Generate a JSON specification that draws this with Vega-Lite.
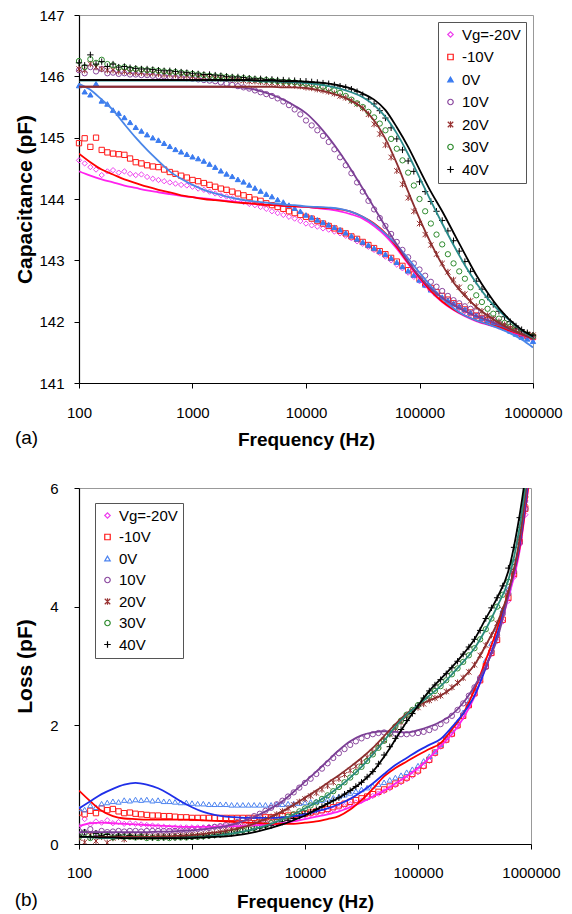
{
"$schema":"https://vega.github.io/schema/vega-lite/v6.json",
"background":"white",
"padding":{"left":14,"top":7,"right":5,"bottom":2},
"spacing":30,
"config":{"font":"Liberation Sans","view":{"stroke":"#999999","strokeWidth":1},
"axis":{"grid":false,"domainColor":"#000","domainWidth":1.2,"tickColor":"#000","tickSize":5,"labelColor":"#000","titleColor":"#000","labelFont":"Liberation Sans","titleFont":"Liberation Sans","labelFontSize":15,"titleFontSize":19,"titleFontWeight":"bold"}},
"datasets":{
"capPts":[
{"f":100,"Vg=-20V":144.63,"-10V":144.91,"0V":145.85,"10V":146.1,"20V":146.12,"30V":146.25,"40V":146.22},
{"f":112.2,"Vg=-20V":144.58,"-10V":144.99,"0V":145.75,"10V":146.05,"20V":146.1,"30V":146.15,"40V":146.18},
{"f":125.9,"Vg=-20V":144.52,"-10V":144.85,"0V":145.7,"10V":146.15,"20V":146.2,"30V":146.28,"40V":146.35},
{"f":141.3,"Vg=-20V":144.48,"-10V":145.0,"0V":145.88,"10V":146.08,"20V":146.15,"30V":146.22,"40V":146.2},
{"f":158.5,"Vg=-20V":144.39,"-10V":144.8,"0V":145.6,"10V":146.12,"20V":146.12,"30V":146.27,"40V":146.24},
{"f":177.8,"Vg=-20V":144.45,"-10V":144.76,"0V":145.55,"10V":146.05,"20V":146.1,"30V":146.2,"40V":146.16},
{"f":199.5,"Vg=-20V":144.47,"-10V":144.74,"0V":145.45,"10V":146.06,"20V":146.1,"30V":146.18,"40V":146.2},
{"f":223.9,"Vg=-20V":144.43,"-10V":144.73,"0V":145.4,"10V":146.04,"20V":146.08,"30V":146.14,"40V":146.15},
{"f":251.2,"Vg=-20V":144.45,"-10V":144.72,"0V":145.33,"10V":146.05,"20V":146.08,"30V":146.15,"40V":146.16},
{"f":281.8,"Vg=-20V":144.41,"-10V":144.66,"0V":145.25,"10V":146.03,"20V":146.07,"30V":146.12,"40V":146.14},
{"f":316.2,"Vg=-20V":144.39,"-10V":144.6,"0V":145.17,"10V":146.03,"20V":146.06,"30V":146.12,"40V":146.13},
{"f":354.8,"Vg=-20V":144.4,"-10V":144.58,"0V":145.11,"10V":146.02,"20V":146.06,"30V":146.11,"40V":146.12},
{"f":398.1,"Vg=-20V":144.36,"-10V":144.55,"0V":145.05,"10V":146.02,"20V":146.05,"30V":146.1,"40V":146.12},
{"f":446.7,"Vg=-20V":144.33,"-10V":144.53,"0V":145.0,"10V":146.01,"20V":146.05,"30V":146.1,"40V":146.11},
{"f":501.2,"Vg=-20V":144.31,"-10V":144.52,"0V":144.96,"10V":146.0,"20V":146.04,"30V":146.09,"40V":146.1},
{"f":562.3,"Vg=-20V":144.29,"-10V":144.48,"0V":144.91,"10V":146.0,"20V":146.03,"30V":146.08,"40V":146.09},
{"f":631,"Vg=-20V":144.27,"-10V":144.44,"0V":144.86,"10V":145.99,"20V":146.03,"30V":146.07,"40V":146.09},
{"f":707.9,"Vg=-20V":144.25,"-10V":144.41,"0V":144.81,"10V":145.98,"20V":146.02,"30V":146.07,"40V":146.08},
{"f":794.3,"Vg=-20V":144.23,"-10V":144.38,"0V":144.77,"10V":145.98,"20V":146.01,"30V":146.06,"40V":146.07},
{"f":891.3,"Vg=-20V":144.22,"-10V":144.35,"0V":144.73,"10V":145.97,"20V":146.01,"30V":146.05,"40V":146.06},
{"f":1000,"Vg=-20V":144.2,"-10V":144.31,"0V":144.69,"10V":145.96,"20V":146.0,"30V":146.04,"40V":146.05},
{"f":1122,"Vg=-20V":144.17,"-10V":144.29,"0V":144.66,"10V":145.95,"20V":145.99,"30V":146.03,"40V":146.04},
{"f":1259,"Vg=-20V":144.15,"-10V":144.26,"0V":144.62,"10V":145.94,"20V":145.99,"30V":146.02,"40V":146.03},
{"f":1413,"Vg=-20V":144.12,"-10V":144.23,"0V":144.57,"10V":145.93,"20V":145.98,"30V":146.01,"40V":146.03},
{"f":1585,"Vg=-20V":144.09,"-10V":144.2,"0V":144.52,"10V":145.92,"20V":145.97,"30V":146.0,"40V":146.02},
{"f":1778,"Vg=-20V":144.06,"-10V":144.17,"0V":144.46,"10V":145.9,"20V":145.96,"30V":146.0,"40V":146.01},
{"f":1995,"Vg=-20V":144.04,"-10V":144.15,"0V":144.41,"10V":145.88,"20V":145.96,"30V":145.99,"40V":146.0},
{"f":2239,"Vg=-20V":144.01,"-10V":144.12,"0V":144.37,"10V":145.86,"20V":145.95,"30V":145.98,"40V":145.99},
{"f":2512,"Vg=-20V":143.98,"-10V":144.09,"0V":144.32,"10V":145.84,"20V":145.94,"30V":145.97,"40V":145.99},
{"f":2818,"Vg=-20V":143.95,"-10V":144.06,"0V":144.28,"10V":145.82,"20V":145.93,"30V":145.97,"40V":145.98},
{"f":3162,"Vg=-20V":143.92,"-10V":144.03,"0V":144.23,"10V":145.8,"20V":145.92,"30V":145.96,"40V":145.97},
{"f":3548,"Vg=-20V":143.9,"-10V":143.99,"0V":144.18,"10V":145.77,"20V":145.92,"30V":145.95,"40V":145.96},
{"f":3981,"Vg=-20V":143.87,"-10V":143.97,"0V":144.13,"10V":145.74,"20V":145.91,"30V":145.94,"40V":145.96},
{"f":4467,"Vg=-20V":143.84,"-10V":143.93,"0V":144.08,"10V":145.71,"20V":145.9,"30V":145.94,"40V":145.95},
{"f":5012,"Vg=-20V":143.8,"-10V":143.9,"0V":144.04,"10V":145.68,"20V":145.89,"30V":145.93,"40V":145.95},
{"f":5623,"Vg=-20V":143.77,"-10V":143.87,"0V":143.99,"10V":145.64,"20V":145.88,"30V":145.92,"40V":145.94},
{"f":6310,"Vg=-20V":143.74,"-10V":143.84,"0V":143.95,"10V":145.59,"20V":145.87,"30V":145.91,"40V":145.94},
{"f":7079,"Vg=-20V":143.71,"-10V":143.8,"0V":143.9,"10V":145.53,"20V":145.86,"30V":145.91,"40V":145.93},
{"f":7943,"Vg=-20V":143.68,"-10V":143.77,"0V":143.85,"10V":145.46,"20V":145.85,"30V":145.9,"40V":145.93},
{"f":8913,"Vg=-20V":143.64,"-10V":143.74,"0V":143.8,"10V":145.38,"20V":145.84,"30V":145.89,"40V":145.92},
{"f":10000,"Vg=-20V":143.6,"-10V":143.71,"0V":143.74,"10V":145.28,"20V":145.82,"30V":145.88,"40V":145.92},
{"f":11220,"Vg=-20V":143.57,"-10V":143.68,"0V":143.7,"10V":145.2,"20V":145.81,"30V":145.87,"40V":145.91},
{"f":12589,"Vg=-20V":143.55,"-10V":143.64,"0V":143.66,"10V":145.12,"20V":145.79,"30V":145.85,"40V":145.9},
{"f":14125,"Vg=-20V":143.52,"-10V":143.6,"0V":143.62,"10V":145.03,"20V":145.77,"30V":145.83,"40V":145.89},
{"f":15849,"Vg=-20V":143.5,"-10V":143.56,"0V":143.58,"10V":144.93,"20V":145.75,"30V":145.8,"40V":145.88},
{"f":17783,"Vg=-20V":143.47,"-10V":143.52,"0V":143.54,"10V":144.81,"20V":145.72,"30V":145.77,"40V":145.86},
{"f":19953,"Vg=-20V":143.44,"-10V":143.48,"0V":143.5,"10V":144.68,"20V":145.68,"30V":145.73,"40V":145.84},
{"f":22387,"Vg=-20V":143.4,"-10V":143.44,"0V":143.45,"10V":144.55,"20V":145.65,"30V":145.68,"40V":145.82},
{"f":25119,"Vg=-20V":143.36,"-10V":143.39,"0V":143.4,"10V":144.42,"20V":145.6,"30V":145.62,"40V":145.79},
{"f":28184,"Vg=-20V":143.31,"-10V":143.35,"0V":143.35,"10V":144.27,"20V":145.55,"30V":145.56,"40V":145.75},
{"f":31623,"Vg=-20V":143.27,"-10V":143.3,"0V":143.3,"10V":144.12,"20V":145.48,"30V":145.5,"40V":145.7},
{"f":35481,"Vg=-20V":143.22,"-10V":143.25,"0V":143.25,"10V":143.97,"20V":145.38,"30V":145.42,"40V":145.63},
{"f":39811,"Vg=-20V":143.17,"-10V":143.2,"0V":143.2,"10V":143.83,"20V":145.22,"30V":145.33,"40V":145.55},
{"f":44668,"Vg=-20V":143.12,"-10V":143.15,"0V":143.15,"10V":143.69,"20V":145.06,"30V":145.23,"40V":145.44},
{"f":50119,"Vg=-20V":143.06,"-10V":143.1,"0V":143.1,"10V":143.56,"20V":144.88,"30V":145.12,"40V":145.32},
{"f":56234,"Vg=-20V":143.0,"-10V":143.04,"0V":143.04,"10V":143.43,"20V":144.68,"30V":144.98,"40V":145.16},
{"f":63096,"Vg=-20V":142.93,"-10V":142.98,"0V":142.97,"10V":143.3,"20V":144.46,"30V":144.82,"40V":144.98},
{"f":70795,"Vg=-20V":142.87,"-10V":142.91,"0V":142.9,"10V":143.17,"20V":144.24,"30V":144.63,"40V":144.8},
{"f":79433,"Vg=-20V":142.8,"-10V":142.84,"0V":142.83,"10V":143.05,"20V":144.02,"30V":144.43,"40V":144.62},
{"f":89125,"Vg=-20V":142.73,"-10V":142.77,"0V":142.76,"10V":142.95,"20V":143.8,"30V":144.22,"40V":144.45},
{"f":100000,"Vg=-20V":142.66,"-10V":142.7,"0V":142.68,"10V":142.85,"20V":143.6,"30V":144.0,"40V":144.28},
{"f":112202,"Vg=-20V":142.59,"-10V":142.62,"0V":142.6,"10V":142.75,"20V":143.42,"30V":143.8,"40V":144.12},
{"f":125893,"Vg=-20V":142.52,"-10V":142.55,"0V":142.52,"10V":142.65,"20V":143.25,"30V":143.6,"40V":143.96},
{"f":141254,"Vg=-20V":142.45,"-10V":142.48,"0V":142.46,"10V":142.57,"20V":143.1,"30V":143.42,"40V":143.8},
{"f":158489,"Vg=-20V":142.38,"-10V":142.42,"0V":142.4,"10V":142.5,"20V":142.95,"30V":143.26,"40V":143.65},
{"f":177828,"Vg=-20V":142.32,"-10V":142.36,"0V":142.35,"10V":142.42,"20V":142.81,"30V":143.1,"40V":143.48},
{"f":199526,"Vg=-20V":142.27,"-10V":142.3,"0V":142.3,"10V":142.35,"20V":142.68,"30V":142.95,"40V":143.32},
{"f":223872,"Vg=-20V":142.22,"-10V":142.25,"0V":142.25,"10V":142.3,"20V":142.56,"30V":142.82,"40V":143.15},
{"f":251189,"Vg=-20V":142.17,"-10V":142.2,"0V":142.2,"10V":142.25,"20V":142.45,"30V":142.7,"40V":142.98},
{"f":281838,"Vg=-20V":142.12,"-10V":142.15,"0V":142.15,"10V":142.21,"20V":142.34,"30V":142.56,"40V":142.82},
{"f":316228,"Vg=-20V":142.08,"-10V":142.1,"0V":142.1,"10V":142.17,"20V":142.25,"30V":142.43,"40V":142.66},
{"f":354813,"Vg=-20V":142.04,"-10V":142.06,"0V":142.06,"10V":142.12,"20V":142.17,"30V":142.32,"40V":142.53},
{"f":398107,"Vg=-20V":142.0,"-10V":142.02,"0V":142.02,"10V":142.08,"20V":142.1,"30V":142.21,"40V":142.4},
{"f":446684,"Vg=-20V":141.96,"-10V":141.98,"0V":141.98,"10V":142.03,"20V":142.05,"30V":142.13,"40V":142.28},
{"f":501187,"Vg=-20V":141.92,"-10V":141.95,"0V":141.95,"10V":141.98,"20V":142.0,"30V":142.05,"40V":142.17},
{"f":562341,"Vg=-20V":141.89,"-10V":141.91,"0V":141.9,"10V":141.93,"20V":141.95,"30V":141.98,"40V":142.08},
{"f":630957,"Vg=-20V":141.85,"-10V":141.87,"0V":141.85,"10V":141.88,"20V":141.9,"30V":141.92,"40V":142.0},
{"f":707946,"Vg=-20V":141.81,"-10V":141.84,"0V":141.8,"10V":141.84,"20V":141.86,"30V":141.87,"40V":141.93},
{"f":794328,"Vg=-20V":141.78,"-10V":141.8,"0V":141.75,"10V":141.8,"20V":141.82,"30V":141.82,"40V":141.87},
{"f":891251,"Vg=-20V":141.75,"-10V":141.77,"0V":141.72,"10V":141.78,"20V":141.8,"30V":141.79,"40V":141.82},
{"f":1000000,"Vg=-20V":141.72,"-10V":141.75,"0V":141.68,"10V":141.75,"20V":141.78,"30V":141.76,"40V":141.78}
],
"capFit":[
{"f":100,"Vg=-20V":144.45,"-10V":144.74,"0V":145.88,"10V":145.83,"20V":145.83,"30V":145.93,"40V":145.94},
{"f":125.9,"Vg=-20V":144.38,"-10V":144.6,"0V":145.78,"10V":145.83,"20V":145.83,"30V":145.93,"40V":145.94},
{"f":158.5,"Vg=-20V":144.32,"-10V":144.48,"0V":145.62,"10V":145.83,"20V":145.83,"30V":145.93,"40V":145.94},
{"f":199.5,"Vg=-20V":144.27,"-10V":144.4,"0V":145.45,"10V":145.83,"20V":145.83,"30V":145.93,"40V":145.94},
{"f":251.2,"Vg=-20V":144.22,"-10V":144.32,"0V":145.22,"10V":145.83,"20V":145.83,"30V":145.93,"40V":145.94},
{"f":316.2,"Vg=-20V":144.18,"-10V":144.26,"0V":145.0,"10V":145.83,"20V":145.83,"30V":145.93,"40V":145.94},
{"f":398.1,"Vg=-20V":144.14,"-10V":144.2,"0V":144.8,"10V":145.83,"20V":145.83,"30V":145.93,"40V":145.94},
{"f":501.2,"Vg=-20V":144.11,"-10V":144.15,"0V":144.62,"10V":145.83,"20V":145.83,"30V":145.93,"40V":145.94},
{"f":631,"Vg=-20V":144.08,"-10V":144.11,"0V":144.45,"10V":145.83,"20V":145.83,"30V":145.93,"40V":145.94},
{"f":794.3,"Vg=-20V":144.05,"-10V":144.06,"0V":144.33,"10V":145.83,"20V":145.83,"30V":145.93,"40V":145.94},
{"f":1000,"Vg=-20V":144.03,"-10V":144.03,"0V":144.23,"10V":145.83,"20V":145.83,"30V":145.93,"40V":145.94},
{"f":1259,"Vg=-20V":144.01,"-10V":144.0,"0V":144.15,"10V":145.83,"20V":145.83,"30V":145.93,"40V":145.94},
{"f":1585,"Vg=-20V":143.99,"-10V":143.98,"0V":144.09,"10V":145.83,"20V":145.83,"30V":145.93,"40V":145.94},
{"f":1995,"Vg=-20V":143.97,"-10V":143.96,"0V":144.04,"10V":145.83,"20V":145.83,"30V":145.93,"40V":145.94},
{"f":2512,"Vg=-20V":143.95,"-10V":143.94,"0V":144.0,"10V":145.82,"20V":145.83,"30V":145.93,"40V":145.94},
{"f":3162,"Vg=-20V":143.93,"-10V":143.93,"0V":143.97,"10V":145.8,"20V":145.83,"30V":145.93,"40V":145.94},
{"f":3981,"Vg=-20V":143.91,"-10V":143.91,"0V":143.95,"10V":145.76,"20V":145.83,"30V":145.92,"40V":145.93},
{"f":5012,"Vg=-20V":143.9,"-10V":143.9,"0V":143.93,"10V":145.7,"20V":145.83,"30V":145.92,"40V":145.93},
{"f":6310,"Vg=-20V":143.89,"-10V":143.89,"0V":143.91,"10V":145.62,"20V":145.82,"30V":145.91,"40V":145.92},
{"f":7943,"Vg=-20V":143.88,"-10V":143.88,"0V":143.9,"10V":145.52,"20V":145.82,"30V":145.9,"40V":145.92},
{"f":10000,"Vg=-20V":143.87,"-10V":143.87,"0V":143.88,"10V":145.4,"20V":145.81,"30V":145.89,"40V":145.91},
{"f":12589,"Vg=-20V":143.85,"-10V":143.86,"0V":143.87,"10V":145.22,"20V":145.78,"30V":145.87,"40V":145.9},
{"f":15849,"Vg=-20V":143.83,"-10V":143.85,"0V":143.86,"10V":145.0,"20V":145.74,"30V":145.84,"40V":145.88},
{"f":19953,"Vg=-20V":143.8,"-10V":143.83,"0V":143.84,"10V":144.75,"20V":145.68,"30V":145.8,"40V":145.85},
{"f":25119,"Vg=-20V":143.75,"-10V":143.79,"0V":143.79,"10V":144.47,"20V":145.6,"30V":145.74,"40V":145.8},
{"f":31623,"Vg=-20V":143.68,"-10V":143.71,"0V":143.71,"10V":144.17,"20V":145.48,"30V":145.66,"40V":145.72},
{"f":39811,"Vg=-20V":143.56,"-10V":143.6,"0V":143.59,"10V":143.86,"20V":145.28,"30V":145.53,"40V":145.62},
{"f":50119,"Vg=-20V":143.4,"-10V":143.44,"0V":143.43,"10V":143.55,"20V":144.98,"30V":145.34,"40V":145.45},
{"f":63096,"Vg=-20V":143.19,"-10V":143.22,"0V":143.25,"10V":143.26,"20V":144.58,"30V":145.07,"40V":145.17},
{"f":79433,"Vg=-20V":142.94,"-10V":142.96,"0V":143.03,"10V":142.98,"20V":144.12,"30V":144.73,"40V":144.85},
{"f":100000,"Vg=-20V":142.7,"-10V":142.72,"0V":142.8,"10V":142.74,"20V":143.68,"30V":144.35,"40V":144.48},
{"f":125893,"Vg=-20V":142.49,"-10V":142.5,"0V":142.58,"10V":142.54,"20V":143.28,"30V":143.97,"40V":144.12},
{"f":158489,"Vg=-20V":142.32,"-10V":142.33,"0V":142.38,"10V":142.39,"20V":142.93,"30V":143.6,"40V":143.8},
{"f":199526,"Vg=-20V":142.19,"-10V":142.2,"0V":142.22,"10V":142.27,"20V":142.64,"30V":143.25,"40V":143.45},
{"f":251189,"Vg=-20V":142.09,"-10V":142.1,"0V":142.1,"10V":142.17,"20V":142.42,"30V":142.92,"40V":143.1},
{"f":316228,"Vg=-20V":142.01,"-10V":142.02,"0V":142.02,"10V":142.09,"20V":142.24,"30V":142.63,"40V":142.76},
{"f":398107,"Vg=-20V":141.95,"-10V":141.96,"0V":141.96,"10V":142.02,"20V":142.1,"30V":142.38,"40V":142.47},
{"f":501187,"Vg=-20V":141.9,"-10V":141.91,"0V":141.89,"10V":141.95,"20V":141.98,"30V":142.18,"40V":142.22},
{"f":630957,"Vg=-20V":141.84,"-10V":141.85,"0V":141.81,"10V":141.87,"20V":141.88,"30V":142.01,"40V":142.02},
{"f":794328,"Vg=-20V":141.78,"-10V":141.79,"0V":141.71,"10V":141.8,"20V":141.8,"30V":141.86,"40V":141.87},
{"f":1000000,"Vg=-20V":141.72,"-10V":141.73,"0V":141.58,"10V":141.72,"20V":141.72,"30V":141.74,"40V":141.76}
],
"lossPts":[
{"f":100,"Vg=-20V":0.3,"-10V":0.53,"0V":0.6,"10V":0.22,"20V":0.1,"30V":0.12,"40V":0.15},
{"f":112.2,"Vg=-20V":0.42,"-10V":0.5,"0V":0.58,"10V":0.2,"20V":0.03,"30V":0.18,"40V":0.2},
{"f":125.9,"Vg=-20V":0.33,"-10V":0.56,"0V":0.65,"10V":0.25,"20V":0.15,"30V":0.1,"40V":0.12},
{"f":141.3,"Vg=-20V":0.38,"-10V":0.52,"0V":0.62,"10V":0.18,"20V":0.05,"30V":0.15,"40V":0.18},
{"f":158.5,"Vg=-20V":0.36,"-10V":0.6,"0V":0.68,"10V":0.22,"20V":0.12,"30V":0.13,"40V":0.14},
{"f":177.8,"Vg=-20V":0.4,"-10V":0.57,"0V":0.7,"10V":0.2,"20V":0.02,"30V":0.14,"40V":0.16},
{"f":199.5,"Vg=-20V":0.35,"-10V":0.59,"0V":0.72,"10V":0.21,"20V":0.1,"30V":0.11,"40V":0.12},
{"f":223.9,"Vg=-20V":0.37,"-10V":0.55,"0V":0.71,"10V":0.22,"20V":0.12,"30V":0.13,"40V":0.15},
{"f":251.2,"Vg=-20V":0.34,"-10V":0.52,"0V":0.74,"10V":0.21,"20V":0.08,"30V":0.12,"40V":0.13},
{"f":281.8,"Vg=-20V":0.35,"-10V":0.53,"0V":0.73,"10V":0.22,"20V":0.13,"30V":0.12,"40V":0.14},
{"f":316.2,"Vg=-20V":0.34,"-10V":0.51,"0V":0.75,"10V":0.22,"20V":0.12,"30V":0.11,"40V":0.12},
{"f":354.8,"Vg=-20V":0.33,"-10V":0.5,"0V":0.74,"10V":0.21,"20V":0.12,"30V":0.12,"40V":0.13},
{"f":398.1,"Vg=-20V":0.32,"-10V":0.49,"0V":0.75,"10V":0.22,"20V":0.13,"30V":0.1,"40V":0.12},
{"f":446.7,"Vg=-20V":0.31,"-10V":0.48,"0V":0.73,"10V":0.22,"20V":0.12,"30V":0.11,"40V":0.11},
{"f":501.2,"Vg=-20V":0.3,"-10V":0.48,"0V":0.74,"10V":0.22,"20V":0.13,"30V":0.1,"40V":0.12},
{"f":562.3,"Vg=-20V":0.29,"-10V":0.47,"0V":0.72,"10V":0.22,"20V":0.13,"30V":0.11,"40V":0.11},
{"f":631,"Vg=-20V":0.28,"-10V":0.47,"0V":0.72,"10V":0.22,"20V":0.13,"30V":0.1,"40V":0.12},
{"f":707.9,"Vg=-20V":0.28,"-10V":0.46,"0V":0.71,"10V":0.22,"20V":0.14,"30V":0.11,"40V":0.11},
{"f":794.3,"Vg=-20V":0.28,"-10V":0.45,"0V":0.7,"10V":0.23,"20V":0.14,"30V":0.11,"40V":0.12},
{"f":891.3,"Vg=-20V":0.28,"-10V":0.45,"0V":0.7,"10V":0.23,"20V":0.14,"30V":0.11,"40V":0.12},
{"f":1000,"Vg=-20V":0.28,"-10V":0.44,"0V":0.69,"10V":0.24,"20V":0.15,"30V":0.12,"40V":0.12},
{"f":1122,"Vg=-20V":0.28,"-10V":0.44,"0V":0.68,"10V":0.25,"20V":0.15,"30V":0.12,"40V":0.13},
{"f":1259,"Vg=-20V":0.28,"-10V":0.44,"0V":0.68,"10V":0.26,"20V":0.16,"30V":0.13,"40V":0.13},
{"f":1413,"Vg=-20V":0.29,"-10V":0.44,"0V":0.67,"10V":0.27,"20V":0.17,"30V":0.14,"40V":0.14},
{"f":1585,"Vg=-20V":0.29,"-10V":0.44,"0V":0.67,"10V":0.29,"20V":0.18,"30V":0.15,"40V":0.15},
{"f":1778,"Vg=-20V":0.3,"-10V":0.44,"0V":0.67,"10V":0.3,"20V":0.2,"30V":0.16,"40V":0.16},
{"f":1995,"Vg=-20V":0.3,"-10V":0.44,"0V":0.67,"10V":0.32,"20V":0.22,"30V":0.18,"40V":0.17},
{"f":2239,"Vg=-20V":0.31,"-10V":0.44,"0V":0.66,"10V":0.34,"20V":0.24,"30V":0.19,"40V":0.18},
{"f":2512,"Vg=-20V":0.31,"-10V":0.44,"0V":0.66,"10V":0.37,"20V":0.26,"30V":0.21,"40V":0.2},
{"f":2818,"Vg=-20V":0.32,"-10V":0.44,"0V":0.66,"10V":0.4,"20V":0.29,"30V":0.23,"40V":0.21},
{"f":3162,"Vg=-20V":0.33,"-10V":0.44,"0V":0.66,"10V":0.43,"20V":0.32,"30V":0.25,"40V":0.23},
{"f":3548,"Vg=-20V":0.34,"-10V":0.44,"0V":0.66,"10V":0.47,"20V":0.35,"30V":0.27,"40V":0.25},
{"f":3981,"Vg=-20V":0.35,"-10V":0.45,"0V":0.66,"10V":0.51,"20V":0.38,"30V":0.3,"40V":0.27},
{"f":4467,"Vg=-20V":0.36,"-10V":0.45,"0V":0.66,"10V":0.56,"20V":0.42,"30V":0.32,"40V":0.29},
{"f":5012,"Vg=-20V":0.37,"-10V":0.45,"0V":0.66,"10V":0.61,"20V":0.46,"30V":0.35,"40V":0.31},
{"f":5623,"Vg=-20V":0.38,"-10V":0.46,"0V":0.67,"10V":0.67,"20V":0.5,"30V":0.38,"40V":0.34},
{"f":6310,"Vg=-20V":0.4,"-10V":0.47,"0V":0.67,"10V":0.73,"20V":0.55,"30V":0.42,"40V":0.37},
{"f":7079,"Vg=-20V":0.42,"-10V":0.48,"0V":0.68,"10V":0.8,"20V":0.6,"30V":0.46,"40V":0.4},
{"f":7943,"Vg=-20V":0.44,"-10V":0.49,"0V":0.68,"10V":0.87,"20V":0.66,"30V":0.5,"40V":0.43},
{"f":8913,"Vg=-20V":0.46,"-10V":0.5,"0V":0.69,"10V":0.95,"20V":0.71,"30V":0.55,"40V":0.47},
{"f":10000,"Vg=-20V":0.48,"-10V":0.51,"0V":0.7,"10V":1.03,"20V":0.76,"30V":0.6,"40V":0.51},
{"f":11220,"Vg=-20V":0.5,"-10V":0.53,"0V":0.71,"10V":1.1,"20V":0.81,"30V":0.65,"40V":0.54},
{"f":12589,"Vg=-20V":0.52,"-10V":0.55,"0V":0.72,"10V":1.18,"20V":0.86,"30V":0.7,"40V":0.58},
{"f":14125,"Vg=-20V":0.54,"-10V":0.57,"0V":0.74,"10V":1.27,"20V":0.92,"30V":0.76,"40V":0.63},
{"f":15849,"Vg=-20V":0.56,"-10V":0.59,"0V":0.76,"10V":1.36,"20V":0.98,"30V":0.82,"40V":0.68},
{"f":17783,"Vg=-20V":0.58,"-10V":0.62,"0V":0.78,"10V":1.45,"20V":1.04,"30V":0.89,"40V":0.73},
{"f":19953,"Vg=-20V":0.61,"-10V":0.65,"0V":0.8,"10V":1.53,"20V":1.1,"30V":0.96,"40V":0.78},
{"f":22387,"Vg=-20V":0.64,"-10V":0.68,"0V":0.83,"10V":1.6,"20V":1.17,"30V":1.04,"40V":0.84},
{"f":25119,"Vg=-20V":0.67,"-10V":0.71,"0V":0.86,"10V":1.67,"20V":1.24,"30V":1.12,"40V":0.9},
{"f":28184,"Vg=-20V":0.7,"-10V":0.74,"0V":0.89,"10V":1.73,"20V":1.31,"30V":1.21,"40V":0.97},
{"f":31623,"Vg=-20V":0.73,"-10V":0.77,"0V":0.92,"10V":1.78,"20V":1.38,"30V":1.3,"40V":1.04},
{"f":35481,"Vg=-20V":0.77,"-10V":0.8,"0V":0.95,"10V":1.82,"20V":1.46,"30V":1.4,"40V":1.13},
{"f":39811,"Vg=-20V":0.81,"-10V":0.84,"0V":0.98,"10V":1.85,"20V":1.55,"30V":1.51,"40V":1.22},
{"f":44668,"Vg=-20V":0.85,"-10V":0.88,"0V":1.01,"10V":1.87,"20V":1.65,"30V":1.62,"40V":1.35},
{"f":50119,"Vg=-20V":0.89,"-10V":0.92,"0V":1.04,"10V":1.88,"20V":1.75,"30V":1.74,"40V":1.5},
{"f":56234,"Vg=-20V":0.94,"-10V":0.97,"0V":1.08,"10V":1.87,"20V":1.85,"30V":1.86,"40V":1.64},
{"f":63096,"Vg=-20V":0.99,"-10V":1.02,"0V":1.12,"10V":1.86,"20V":1.95,"30V":1.98,"40V":1.78},
{"f":70795,"Vg=-20V":1.04,"-10V":1.07,"0V":1.16,"10V":1.85,"20V":2.05,"30V":2.08,"40V":1.93},
{"f":79433,"Vg=-20V":1.09,"-10V":1.12,"0V":1.21,"10V":1.85,"20V":2.15,"30V":2.18,"40V":2.08},
{"f":89125,"Vg=-20V":1.15,"-10V":1.18,"0V":1.26,"10V":1.86,"20V":2.23,"30V":2.26,"40V":2.2},
{"f":100000,"Vg=-20V":1.21,"-10V":1.24,"0V":1.32,"10V":1.87,"20V":2.3,"30V":2.34,"40V":2.33},
{"f":112202,"Vg=-20V":1.3,"-10V":1.32,"0V":1.4,"10V":1.89,"20V":2.36,"30V":2.42,"40V":2.46},
{"f":125893,"Vg=-20V":1.4,"-10V":1.42,"0V":1.48,"10V":1.92,"20V":2.42,"30V":2.5,"40V":2.58},
{"f":141254,"Vg=-20V":1.52,"-10V":1.54,"0V":1.56,"10V":1.96,"20V":2.46,"30V":2.58,"40V":2.68},
{"f":158489,"Vg=-20V":1.64,"-10V":1.66,"0V":1.68,"10V":2.02,"20V":2.5,"30V":2.66,"40V":2.77},
{"f":177828,"Vg=-20V":1.74,"-10V":1.76,"0V":1.8,"10V":2.08,"20V":2.57,"30V":2.76,"40V":2.87},
{"f":199526,"Vg=-20V":1.84,"-10V":1.86,"0V":1.92,"10V":2.16,"20V":2.64,"30V":2.86,"40V":2.97},
{"f":223872,"Vg=-20V":1.98,"-10V":2.0,"0V":2.06,"10V":2.26,"20V":2.72,"30V":2.96,"40V":3.08},
{"f":251189,"Vg=-20V":2.14,"-10V":2.16,"0V":2.22,"10V":2.37,"20V":2.8,"30V":3.07,"40V":3.2},
{"f":281838,"Vg=-20V":2.32,"-10V":2.34,"0V":2.4,"10V":2.5,"20V":2.9,"30V":3.18,"40V":3.32},
{"f":316228,"Vg=-20V":2.52,"-10V":2.54,"0V":2.6,"10V":2.64,"20V":3.02,"30V":3.3,"40V":3.45},
{"f":354813,"Vg=-20V":2.74,"-10V":2.76,"0V":2.82,"10V":2.8,"20V":3.18,"30V":3.45,"40V":3.6},
{"f":398107,"Vg=-20V":2.98,"-10V":3.0,"0V":3.1,"10V":2.98,"20V":3.35,"30V":3.62,"40V":3.8},
{"f":446684,"Vg=-20V":3.2,"-10V":3.22,"0V":3.38,"10V":3.25,"20V":3.52,"30V":3.8,"40V":3.98},
{"f":501187,"Vg=-20V":3.42,"-10V":3.44,"0V":3.62,"10V":3.52,"20V":3.72,"30V":4.0,"40V":4.15},
{"f":562341,"Vg=-20V":3.75,"-10V":3.78,"0V":3.95,"10V":3.88,"20V":3.95,"30V":4.2,"40V":4.35},
{"f":630957,"Vg=-20V":4.1,"-10V":4.15,"0V":4.3,"10V":4.22,"20V":4.25,"30V":4.42,"40V":4.65},
{"f":707946,"Vg=-20V":4.5,"-10V":4.55,"0V":4.75,"10V":4.6,"20V":4.6,"30V":4.75,"40V":5.0},
{"f":794328,"Vg=-20V":5.05,"-10V":5.1,"0V":5.2,"10V":5.08,"20V":5.15,"30V":5.3,"40V":5.5},
{"f":891251,"Vg=-20V":5.55,"-10V":5.65,"0V":5.8,"10V":5.65,"20V":5.75,"30V":5.85,"40V":null}
],
"lossFit":[
{"f":100,"Vg=-20V":0.3,"-10V":0.9,"0V":0.6,"10V":0.2,"20V":0.12,"30V":0.12,"40V":0.12},
{"f":125.9,"Vg=-20V":0.35,"-10V":0.72,"0V":0.72,"10V":0.2,"20V":0.12,"30V":0.11,"40V":0.12},
{"f":158.5,"Vg=-20V":0.36,"-10V":0.56,"0V":0.84,"10V":0.2,"20V":0.12,"30V":0.1,"40V":0.11},
{"f":199.5,"Vg=-20V":0.35,"-10V":0.47,"0V":0.93,"10V":0.2,"20V":0.12,"30V":0.1,"40V":0.11},
{"f":251.2,"Vg=-20V":0.34,"-10V":0.43,"0V":1.0,"10V":0.2,"20V":0.12,"30V":0.1,"40V":0.1},
{"f":316.2,"Vg=-20V":0.33,"-10V":0.42,"0V":1.03,"10V":0.2,"20V":0.12,"30V":0.1,"40V":0.1},
{"f":398.1,"Vg=-20V":0.32,"-10V":0.41,"0V":1.0,"10V":0.2,"20V":0.12,"30V":0.1,"40V":0.1},
{"f":501.2,"Vg=-20V":0.31,"-10V":0.41,"0V":0.94,"10V":0.21,"20V":0.13,"30V":0.1,"40V":0.1},
{"f":631,"Vg=-20V":0.3,"-10V":0.41,"0V":0.84,"10V":0.21,"20V":0.13,"30V":0.1,"40V":0.1},
{"f":794.3,"Vg=-20V":0.29,"-10V":0.41,"0V":0.72,"10V":0.22,"20V":0.14,"30V":0.1,"40V":0.1},
{"f":1000,"Vg=-20V":0.29,"-10V":0.41,"0V":0.62,"10V":0.23,"20V":0.15,"30V":0.11,"40V":0.1},
{"f":1259,"Vg=-20V":0.29,"-10V":0.4,"0V":0.54,"10V":0.25,"20V":0.17,"30V":0.12,"40V":0.11},
{"f":1585,"Vg=-20V":0.29,"-10V":0.39,"0V":0.49,"10V":0.27,"20V":0.19,"30V":0.14,"40V":0.12},
{"f":1995,"Vg=-20V":0.3,"-10V":0.38,"0V":0.46,"10V":0.3,"20V":0.22,"30V":0.16,"40V":0.13},
{"f":2512,"Vg=-20V":0.3,"-10V":0.37,"0V":0.45,"10V":0.35,"20V":0.26,"30V":0.19,"40V":0.15},
{"f":3162,"Vg=-20V":0.31,"-10V":0.36,"0V":0.44,"10V":0.42,"20V":0.31,"30V":0.23,"40V":0.18},
{"f":3981,"Vg=-20V":0.32,"-10V":0.35,"0V":0.44,"10V":0.5,"20V":0.38,"30V":0.28,"40V":0.22},
{"f":5012,"Vg=-20V":0.33,"-10V":0.34,"0V":0.44,"10V":0.6,"20V":0.46,"30V":0.34,"40V":0.27},
{"f":6310,"Vg=-20V":0.35,"-10V":0.34,"0V":0.45,"10V":0.72,"20V":0.55,"30V":0.42,"40V":0.33},
{"f":7943,"Vg=-20V":0.38,"-10V":0.34,"0V":0.47,"10V":0.88,"20V":0.66,"30V":0.5,"40V":0.4},
{"f":10000,"Vg=-20V":0.42,"-10V":0.36,"0V":0.5,"10V":1.05,"20V":0.78,"30V":0.6,"40V":0.48},
{"f":12589,"Vg=-20V":0.46,"-10V":0.38,"0V":0.55,"10V":1.22,"20V":0.9,"30V":0.7,"40V":0.58},
{"f":15849,"Vg=-20V":0.5,"-10V":0.42,"0V":0.6,"10V":1.4,"20V":1.03,"30V":0.82,"40V":0.68},
{"f":19953,"Vg=-20V":0.55,"-10V":0.47,"0V":0.67,"10V":1.58,"20V":1.16,"30V":0.96,"40V":0.78},
{"f":25119,"Vg=-20V":0.62,"-10V":0.58,"0V":0.76,"10V":1.73,"20V":1.3,"30V":1.12,"40V":0.9},
{"f":31623,"Vg=-20V":0.7,"-10V":0.74,"0V":0.88,"10V":1.83,"20V":1.45,"30V":1.3,"40V":1.04},
{"f":39811,"Vg=-20V":0.8,"-10V":0.93,"0V":1.02,"10V":1.88,"20V":1.62,"30V":1.51,"40V":1.22},
{"f":50119,"Vg=-20V":0.9,"-10V":1.14,"0V":1.18,"10V":1.9,"20V":1.82,"30V":1.74,"40V":1.47},
{"f":63096,"Vg=-20V":1.02,"-10V":1.28,"0V":1.33,"10V":1.89,"20V":2.02,"30V":1.98,"40V":1.76},
{"f":79433,"Vg=-20V":1.14,"-10V":1.39,"0V":1.45,"10V":1.88,"20V":2.2,"30V":2.18,"40V":2.06},
{"f":100000,"Vg=-20V":1.28,"-10V":1.5,"0V":1.57,"10V":1.92,"20V":2.33,"30V":2.34,"40V":2.33},
{"f":125893,"Vg=-20V":1.45,"-10V":1.6,"0V":1.67,"10V":1.98,"20V":2.42,"30V":2.5,"40V":2.58},
{"f":158489,"Vg=-20V":1.65,"-10V":1.7,"0V":1.77,"10V":2.06,"20V":2.5,"30V":2.66,"40V":2.78},
{"f":199526,"Vg=-20V":1.85,"-10V":1.93,"0V":1.97,"10V":2.18,"20V":2.63,"30V":2.86,"40V":2.98},
{"f":251189,"Vg=-20V":2.12,"-10V":2.2,"0V":2.2,"10V":2.38,"20V":2.8,"30V":3.07,"40V":3.2},
{"f":316228,"Vg=-20V":2.48,"-10V":2.6,"0V":2.5,"10V":2.66,"20V":3.02,"30V":3.3,"40V":3.45},
{"f":398107,"Vg=-20V":2.98,"-10V":3.1,"0V":2.97,"10V":3.0,"20V":3.35,"30V":3.62,"40V":3.8},
{"f":501187,"Vg=-20V":3.5,"-10V":3.62,"0V":3.52,"10V":3.45,"20V":3.72,"30V":4.0,"40V":4.15},
{"f":630957,"Vg=-20V":4.15,"-10V":4.25,"0V":4.22,"10V":4.2,"20V":4.25,"30V":4.45,"40V":4.6},
{"f":794328,"Vg=-20V":4.95,"-10V":5.0,"0V":5.05,"10V":5.1,"20V":5.15,"30V":5.35,"40V":5.55},
{"f":1000000,"Vg=-20V":6.4,"-10V":6.4,"0V":6.5,"10V":6.6,"20V":6.75,"30V":6.8,"40V":6.9}
]
},
"vconcat":[
{"width":454,"height":368,
"title":{"text":"(a)","orient":"bottom","anchor":"start","frame":"bounds","fontSize":19,"fontWeight":"normal","font":"Liberation Sans","color":"#000","offset":-20},
"layer":[
{"data":{"name":"capPts"},
"transform":[{"fold":["Vg=-20V","-10V","0V","10V","20V","30V","40V"],"as":["series","v"]}],
"mark":{"type":"point","filled":false,"size":28,"strokeWidth":1,"opacity":1},
"encoding":{
"x":{"field":"f","type":"quantitative","scale":{"type":"log","domain":[100,1000000]},"axis":{"title":"Frequency (Hz)","values":[100,1000,10000,100000,1000000],"format":"d","labelFlush":false,"labelPadding":17,"titlePadding":10}},
"y":{"field":"v","type":"quantitative","scale":{"domain":[141,147],"nice":false,"zero":false},"axis":{"title":"Capacitance (pF)","values":[141,142,143,144,145,146,147],"format":"d","labelPadding":10,"titlePadding":3,"titleFontSize":21}},
"color":{"field":"series","type":"nominal","scale":{"domain":["Vg=-20V","-10V","0V","10V","20V","30V","40V"],"range":["#ee3fee","#ff1a1a","#3a7bf0","#8a479e","#993333","#2e8b2e","#000000"]},
"legend":{"title":null,"orient":"top-right","offset":7,"strokeColor":"#555555","fillColor":"white","padding":5,"labelFontSize":15,"labelFont":"Liberation Sans","labelColor":"#000","rowPadding":6.5,"symbolSize":30,"symbolStrokeWidth":1.2,"labelOffset":4}},
"shape":{"field":"series","type":"nominal","scale":{"domain":["Vg=-20V","-10V","0V","10V","20V","30V","40V"],"range":["diamond","square","triangle-up","circle","M-1,-1L1,1M-1,1L1,-1M0,-1.2L0,1.2","circle","M-1.2,0L1.2,0M0,-1.2L0,1.2"]}},
"fill":{"field":"series","type":"nominal","scale":{"domain":["Vg=-20V","-10V","0V","10V","20V","30V","40V"],"range":["transparent","transparent","#3a7bf0","transparent","transparent","transparent","transparent"]}}
}},
{"data":{"name":"capFit"},
"transform":[{"fold":["Vg=-20V","-10V","0V","10V","20V","30V","40V"],"as":["series","v"]}],
"mark":{"type":"line","strokeWidth":1.8,"interpolate":"monotone","clip":true},
"encoding":{
"x":{"field":"f","type":"quantitative"},
"y":{"field":"v","type":"quantitative"},
"stroke":{"field":"series","type":"nominal","scale":{"domain":["Vg=-20V","-10V","0V","10V","20V","30V","40V"],"range":["#ff22ee","#ff0000","#4a86e8","#7b3f95","#8b2e2e","#2a8a8a","#000000"]},"legend":null}
}}
]},
{"width":452,"height":356,
"title":{"text":"(b)","orient":"bottom","anchor":"start","frame":"bounds","fontSize":19,"fontWeight":"normal","font":"Liberation Sans","color":"#000","offset":-20},
"layer":[
{"data":{"name":"lossPts"},
"transform":[{"fold":["Vg=-20V","-10V","0V","10V","20V","30V","40V"],"as":["series","v"]}],
"mark":{"type":"point","filled":false,"size":28,"strokeWidth":1,"opacity":1,"clip":true},
"encoding":{
"x":{"field":"f","type":"quantitative","scale":{"type":"log","domain":[100,1000000]},"axis":{"title":"Frequency (Hz)","values":[100,1000,10000,100000,1000000],"format":"d","labelFlush":false,"labelPadding":16,"titlePadding":12}},
"y":{"field":"v","type":"quantitative","scale":{"domain":[0,6],"nice":false},"axis":{"title":"Loss (pF)","values":[0,2,4,6],"format":"d","labelPadding":16,"titlePadding":14,"titleFontSize":21}},
"color":{"field":"series","type":"nominal","scale":{"domain":["Vg=-20V","-10V","0V","10V","20V","30V","40V"],"range":["#ee3fee","#ff1a1a","#4d84f0","#8a479e","#993333","#2e8b2e","#000000"]},
"legend":{"title":null,"orient":"none","legendX":16,"legendY":15,"strokeColor":"#555555","fillColor":"white","padding":5,"labelFontSize":15,"labelFont":"Liberation Sans","labelColor":"#000","rowPadding":5.5,"symbolSize":30,"symbolStrokeWidth":1.2,"labelOffset":4}},
"shape":{"field":"series","type":"nominal","scale":{"domain":["Vg=-20V","-10V","0V","10V","20V","30V","40V"],"range":["diamond","square","triangle-up","circle","M-1,-1L1,1M-1,1L1,-1M0,-1.2L0,1.2","circle","M-1.2,0L1.2,0M0,-1.2L0,1.2"]}}
}},
{"data":{"name":"lossFit"},
"transform":[{"fold":["Vg=-20V","-10V","0V","10V","20V","30V","40V"],"as":["series","v"]}],
"mark":{"type":"line","strokeWidth":1.8,"interpolate":"monotone","clip":true},
"encoding":{
"x":{"field":"f","type":"quantitative"},
"y":{"field":"v","type":"quantitative"},
"stroke":{"field":"series","type":"nominal","scale":{"domain":["Vg=-20V","-10V","0V","10V","20V","30V","40V"],"range":["#ff22ee","#ff0000","#1f2fe8","#7b3f95","#8b2e2e","#2a8a7a","#000000"]},"legend":null}
}}
]}
],
"resolve":{"scale":{"x":"independent","y":"independent","color":"independent","shape":"independent","fill":"independent","stroke":"independent"},"legend":{"color":"independent","shape":"independent","fill":"independent"}}
}
